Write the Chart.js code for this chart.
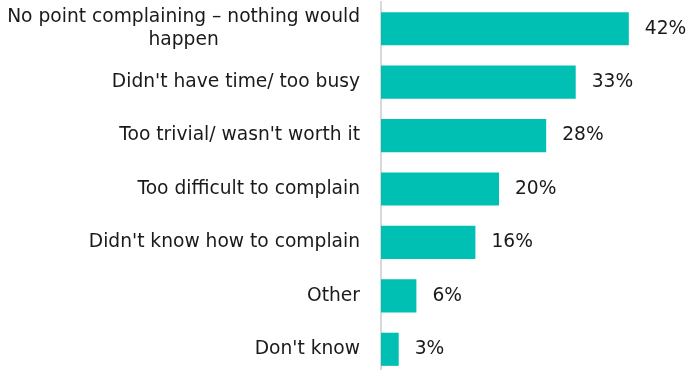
<!DOCTYPE html>
<html>
<head>
<meta charset="utf-8">
<script src="https://cdn.jsdelivr.net/npm/chart.js@4"></script>
<style>
  html, body { margin: 0; padding: 0; background: #fff; overflow: hidden; }
  #wrap { width: 689px; height: 376px; position: relative; }
</style>
</head>
<body>
<div id="wrap"><canvas id="chart"></canvas></div>
<script>
// Reasons for not complaining (% of respondents)
const categories = [
    ['No point complaining \u2013 nothing would', 'happen'],
    "Didn't have time/ too busy",
    "Too trivial/ wasn't worth it",
    'Too difficult to complain',
    "Didn't know how to complain",
    'Other',
    "Don't know"
];
const values = [42, 33, 28, 20, 16, 6, 3];

const FONT = "18.67px 'DejaVu Sans', Verdana, sans-serif";
const TEXT = '#1a1a1a';

// category labels: block right-aligned to the axis, lines centred in the block
const categoryLabels = {
    id: 'categoryLabels',
    afterDraw(chart) {
        const ctx = chart.ctx;
        const y = chart.scales.y;
        const right = chart.chartArea.left - 21;
        const lh = 23;
        ctx.save();
        ctx.font = FONT;
        ctx.fillStyle = TEXT;
        ctx.textAlign = 'center';
        ctx.textBaseline = 'middle';
        categories.forEach((c, i) => {
            const lines = Array.isArray(c) ? c : [c];
            const w = Math.max(...lines.map(l => ctx.measureText(l).width));
            const cx = right - w / 2;
            const y0 = y.getPixelForTick(i) - (lines.length - 1) * lh / 2;
            lines.forEach((l, j) => ctx.fillText(l, cx, y0 + j * lh));
        });
        ctx.restore();
    }
};

// value labels after the end of each bar
const valueLabels = {
    id: 'valueLabels',
    afterDatasetsDraw(chart) {
        const ctx = chart.ctx;
        const meta = chart.getDatasetMeta(0);
        ctx.save();
        ctx.font = FONT;
        ctx.fillStyle = TEXT;
        ctx.textAlign = 'left';
        ctx.textBaseline = 'middle';
        meta.data.forEach((bar, i) => {
            ctx.fillText(values[i] + '%', bar.x + 16, bar.y);
        });
        ctx.restore();
    }
};

new Chart(document.getElementById('chart'), {
    type: 'bar',
    data: {
        labels: categories,
        datasets: [{
            data: values,
            backgroundColor: '#00bfb3',
            borderWidth: 0,
            barPercentage: 0.62,
            categoryPercentage: 1
        }]
    },
    options: {
        indexAxis: 'y',
        responsive: true,
        maintainAspectRatio: false,
        animation: false,
        layout: { padding: { top: 2, right: 13, bottom: 0, left: 0 } },
        scales: {
            x: {
                min: 0,
                max: 50,
                display: false
            },
            y: {
                grid: { display: false },
                border: { display: true, color: '#d9d9d9', width: 2 },
                ticks: { display: false },
                afterFit: s => { s.width = 381; }
            }
        },
        plugins: {
            legend: { display: false },
            tooltip: { enabled: false }
        }
    },
    plugins: [categoryLabels, valueLabels]
});
</script>
</body>
</html>
